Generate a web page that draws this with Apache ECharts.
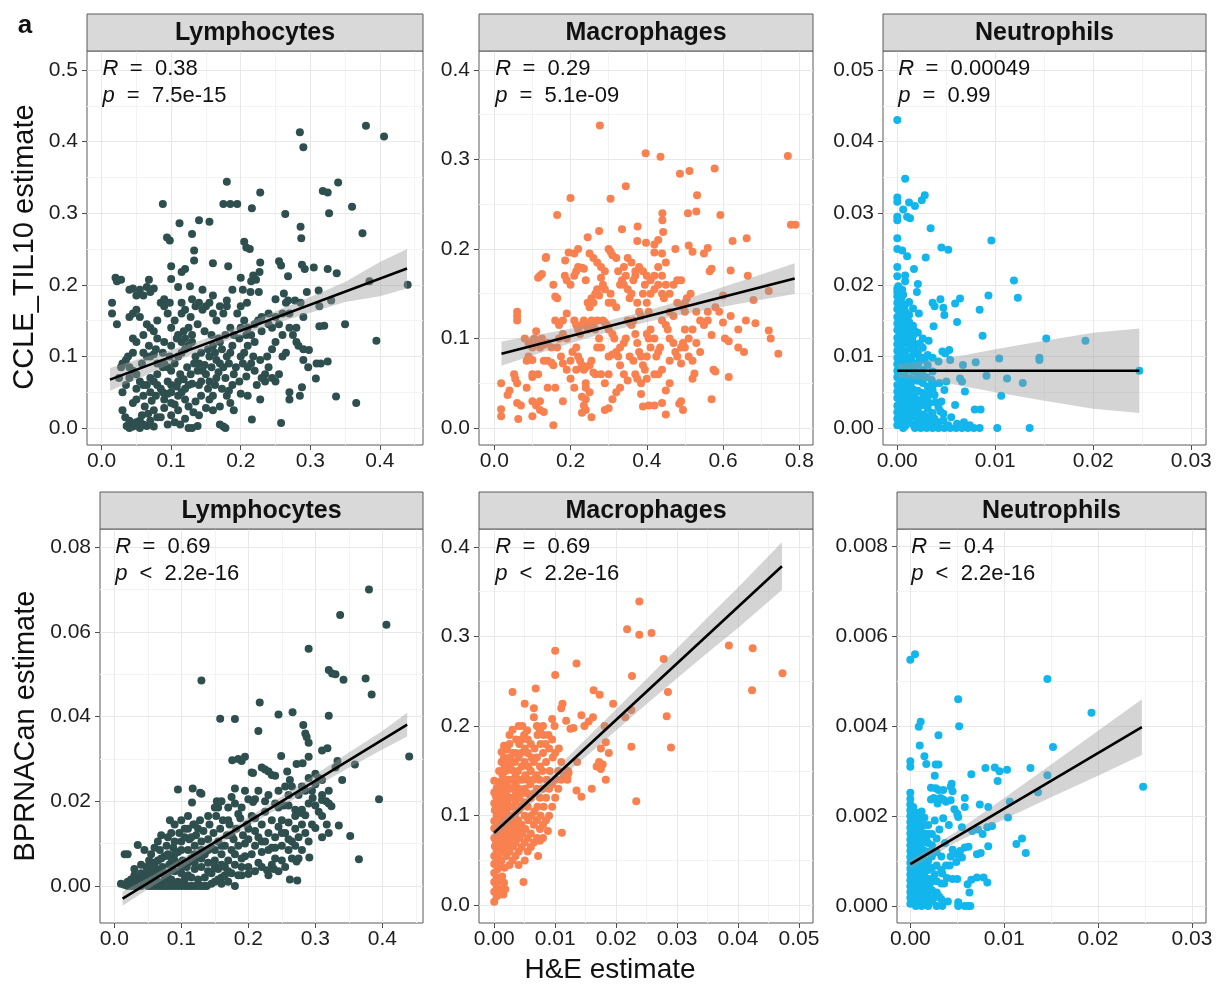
<!DOCTYPE html>
<html><head><meta charset="utf-8">
<script src="https://cdn.jsdelivr.net/npm/echarts@6/dist/echarts.min.js"></script>
<style>html,body{margin:0;padding:0;background:#fff}#c{width:1218px;height:987px}</style>
</head><body><div id="c"></div>
<script>
// ---------------- DATA ----------------
const panelTitles = ['Lymphocytes','Macrophages','Neutrophils','Lymphocytes','Macrophages','Neutrophils'];
const rValues = ['0.38','0.29','0.00049','0.69','0.69','0.4'];
const pOps = ['=','=','=','<','<','<'];
const pValues = ['7.5e-15','5.1e-09','0.99','2.2e-16','2.2e-16','2.2e-16'];
const yTitles = ['CCLE_TIL10 estimate','BPRNACan estimate'];
const xTitle = 'H&E estimate';
const panelTag = 'a';

const xTicksLymph = [0,0.1,0.2,0.3,0.4];
const xTicksMacroCCLE = [0,0.2,0.4,0.6,0.8];
const xTicksNeutro = [0,0.01,0.02,0.03];
const xTicksMacroBPR = [0,0.01,0.02,0.03,0.04,0.05];
const yTicksLymphCCLE = [0,0.1,0.2,0.3,0.4,0.5];
const yTicksMacroCCLE = [0,0.1,0.2,0.3,0.4];
const yTicksNeutroCCLE = [0,0.01,0.02,0.03,0.04,0.05];
const yTicksLymphBPR = [0,0.02,0.04,0.06,0.08];
const yTicksMacroBPR = [0,0.1,0.2,0.3,0.4];
const yTicksNeutroBPR = [0,0.002,0.004,0.006,0.008];

const lymphCCLE = [
[0.285,0.413],[0.29,0.392],[0.38,0.422],[0.406,0.407],[0.18,0.344],[0.34,0.343],[0.228,0.329],[0.318,0.331],[0.325,0.329],[0.088,0.313],[0.175,0.313],[0.185,0.313],[0.195,0.313],[0.216,0.307],[0.36,0.309],[0.327,0.300],[0.264,0.299],[0.14,0.29],[0.155,0.288],[0.112,0.286],[0.286,0.281],[0.375,0.272],[0.13,0.271],[0.094,0.266],[0.098,0.262],[0.205,0.26],[0.287,0.265],[0.208,0.252],[0.213,0.25],[0.133,0.248],[0.133,0.234],[0.255,0.233],[0.258,0.227],[0.228,0.231],[0.16,0.23],[0.1,0.226],[0.12,0.222],[0.115,0.218],[0.182,0.226],[0.288,0.228],[0.292,0.222],[0.305,0.224],[0.325,0.222],[0.338,0.216],[0.227,0.218],[0.218,0.213],[0.215,0.205],[0.222,0.207],[0.268,0.212],[0.2,0.21],
[0.015,0.175],[0.015,0.16],[0.02,0.21],[0.022,0.205],[0.028,0.207],[0.022,0.145],[0.04,0.193],[0.045,0.195],[0.055,0.193],[0.065,0.197],[0.068,0.207],[0.07,0.19],[0.1,0.208],[0.11,0.197],[0.127,0.198],[0.145,0.193],[0.188,0.193],[0.203,0.193],[0.209,0.175],[0.214,0.19],[0.226,0.19],[0.25,0.18],[0.262,0.188],[0.268,0.178],[0.278,0.178],[0.286,0.175],[0.295,0.19],[0.312,0.192],[0.313,0.17],[0.33,0.178],[0.44,0.2],[0.385,0.205],[0.29,0.155],[0.35,0.145],[0.32,0.143],[0.313,0.142],[0.395,0.122],[0.325,0.093],[0.315,0.09],[0.309,0.09],[0.298,0.109],[0.297,0.085],[0.29,0.095],[0.308,0.069],[0.337,0.044],[0.366,0.035],[0.258,0.007],[0.216,0.012],[0.178,0.0],[0.175,0.002],[0.17,0.005],
[0.036,0.003],[0.04,0.0],[0.045,0.002],[0.05,0.008],[0.055,0.0],[0.06,0.005],[0.065,0.003],[0.07,0.01],[0.075,0.002],[0.08,0.015],[0.03,0.025],[0.034,0.015],[0.04,0.01],[0.058,0.018],[0.067,0.02],[0.075,0.025],[0.09,0.028],[0.1,0.018],[0.11,0.025],[0.105,0.008],[0.113,0.005],[0.125,0.0],[0.13,0.0],[0.138,0.003],[0.14,0.018],[0.15,0.028],[0.16,0.025],[0.125,0.03],[0.132,0.022],[0.085,0.015],[0.095,0.005],[0.12,0.013],
[0.045,0.035],[0.05,0.04],[0.06,0.045],[0.07,0.05],[0.08,0.06],[0.085,0.055],[0.075,0.065],[0.065,0.06],[0.09,0.04],[0.1,0.035],[0.105,0.033],[0.11,0.045],[0.115,0.05],[0.12,0.055],[0.125,0.06],[0.13,0.062],[0.12,0.04],[0.135,0.037],[0.143,0.045],[0.155,0.04],[0.16,0.045],[0.165,0.07],[0.17,0.03],[0.18,0.045],[0.185,0.035],[0.19,0.025],[0.155,0.065],[0.14,0.06],[0.2,0.048],[0.21,0.045],[0.228,0.04],[0.27,0.05],[0.27,0.04],[0.285,0.045],[0.288,0.057],[0.223,0.06],[0.235,0.065],[0.25,0.065],[0.255,0.075],[0.245,0.07],[0.1,0.06],[0.095,0.065],[0.055,0.065],[0.04,0.07],
[0.025,0.07],[0.028,0.085],[0.03,0.09],[0.035,0.095],[0.038,0.1],[0.04,0.085],[0.045,0.08],[0.05,0.075],[0.06,0.105],[0.065,0.1],[0.07,0.1],[0.075,0.103],[0.08,0.09],[0.088,0.085],[0.09,0.09],[0.095,0.085],[0.1,0.08],[0.105,0.09],[0.11,0.1],[0.115,0.105],[0.12,0.11],[0.125,0.115],[0.13,0.12],[0.135,0.1],[0.14,0.09],[0.145,0.08],[0.15,0.075],[0.155,0.1],[0.165,0.095],[0.17,0.09],[0.175,0.085],[0.18,0.1],[0.185,0.105],[0.19,0.075],[0.2,0.1],[0.205,0.105],[0.21,0.085],[0.215,0.09],[0.22,0.08],[0.23,0.07],[0.235,0.075],[0.24,0.085],[0.245,0.11],[0.25,0.12],[0.26,0.1],[0.265,0.105],[0.22,0.12],[0.21,0.115],[0.28,0.12],[0.283,0.115],[0.29,0.11],[0.05,0.12],[0.045,0.125],[0.08,0.125],[0.09,0.12],[0.1,0.115],[0.115,0.12],[0.12,0.125],[0.16,0.115],[0.17,0.12],
[0.04,0.155],[0.045,0.16],[0.05,0.165],[0.055,0.155],[0.06,0.13],[0.065,0.145],[0.07,0.14],[0.075,0.135],[0.08,0.15],[0.085,0.175],[0.09,0.17],[0.095,0.16],[0.1,0.14],[0.105,0.15],[0.11,0.13],[0.115,0.16],[0.12,0.165],[0.125,0.14],[0.13,0.13],[0.135,0.17],[0.14,0.175],[0.145,0.165],[0.15,0.17],[0.155,0.175],[0.16,0.16],[0.165,0.15],[0.17,0.17],[0.175,0.16],[0.18,0.17],[0.185,0.14],[0.19,0.13],[0.195,0.16],[0.2,0.17],[0.205,0.15],[0.21,0.14],[0.215,0.13],[0.22,0.145],[0.225,0.15],[0.23,0.155],[0.24,0.16],[0.245,0.14],[0.255,0.145],[0.265,0.175],[0.27,0.16],[0.275,0.13],[0.28,0.14],[0.06,0.185],[0.075,0.195],[0.13,0.18],[0.16,0.185],[0.18,0.178],[0.115,0.175],[0.09,0.18],[0.098,0.175],[0.05,0.185],
[0.055,0.01],[0.062,0.03],[0.072,0.038],[0.078,0.045],[0.088,0.05],[0.095,0.048],[0.108,0.058],[0.118,0.068],[0.128,0.075],[0.138,0.08],[0.148,0.088],[0.158,0.085],[0.168,0.078],[0.178,0.07],[0.188,0.06],[0.198,0.065],[0.208,0.072],[0.218,0.1],[0.228,0.095],[0.238,0.1],[0.098,0.1],[0.088,0.105],[0.078,0.11],[0.068,0.115],[0.058,0.09],[0.108,0.125],[0.118,0.135],[0.128,0.155],[0.138,0.145],[0.148,0.135],[0.158,0.13],[0.168,0.125],[0.178,0.13],[0.188,0.115],[0.198,0.125],[0.208,0.13],[0.143,0.105],[0.153,0.11],[0.163,0.105],[0.173,0.11],[0.183,0.09],[0.193,0.085],[0.203,0.09],[0.113,0.075],[0.123,0.085],[0.133,0.09],[0.143,0.065],[0.153,0.055],[0.163,0.06],[0.173,0.055],[0.183,0.052],[0.06,0.06],[0.07,0.07],[0.08,0.075],[0.05,0.055],[0.1,0.05],[0.11,0.065],[0.2,0.14],[0.23,0.135],[0.24,0.145],[0.26,0.13],[0.27,0.14],[0.26,0.16],[0.25,0.155],[0.035,0.06],[0.03,0.05],[0.045,0.105]
];
const fitLymphCCLE = [[0.012,0.0676],[0.439,0.2227]];
const bandLymphCCLE = [[0.012,0.052,0.084],[0.06,0.072,0.098],[0.1,0.090,0.109],[0.15,0.111,0.125],[0.2,0.129,0.143],[0.25,0.146,0.163],[0.3,0.161,0.183],[0.35,0.176,0.204],[0.4,0.184,0.232],[0.439,0.195,0.250]];

const macroCCLE = [
[0.277,0.338],[0.397,0.307],[0.436,0.303],[0.77,0.304],[0.487,0.284],[0.512,0.287],[0.578,0.29],[0.345,0.27],[0.532,0.26],[0.2,0.257],[0.305,0.256],[0.165,0.238],[0.508,0.24],[0.53,0.242],[0.593,0.238],[0.441,0.24],[0.441,0.232],[0.778,0.227],[0.79,0.227],[0.275,0.22],[0.335,0.222],[0.376,0.225],[0.443,0.219],[0.245,0.213],[0.375,0.209],[0.398,0.207],[0.42,0.205],[0.43,0.21],[0.475,0.2],[0.51,0.204],[0.52,0.197],[0.56,0.201],[0.55,0.195],[0.625,0.209],[0.662,0.212],[0.136,0.191],[0.186,0.187],[0.195,0.196],[0.21,0.195],[0.23,0.179],[0.3,0.2],[0.305,0.197],[0.31,0.193],[0.325,0.175],[0.32,0.19],[0.34,0.18],[0.45,0.185],[0.42,0.196],[0.44,0.195],[0.565,0.175],[0.57,0.178],[0.62,0.176],[0.665,0.17],[0.68,0.143],[0.72,0.153],[0.685,0.117],[0.72,0.109],[0.725,0.1],[0.745,0.083],[0.64,0.09],[0.655,0.085],[0.6,0.118],[0.615,0.097],[0.55,0.115],[0.56,0.12],[0.57,0.104],[0.59,0.13],[0.605,0.1],[0.575,0.065],[0.58,0.063],[0.615,0.057],[0.57,0.032],[0.5,0.09],[0.51,0.08],[0.52,0.075],[0.49,0.072],[0.525,0.061],[0.52,0.055],[0.49,0.03],[0.485,0.027],[0.495,0.02],[0.45,0.015],[0.44,0.028],[0.42,0.025],[0.405,0.025],[0.39,0.024],[0.4,0.055],[0.385,0.038],[0.45,0.042],[0.46,0.05],[0.35,0.053],[0.33,0.045],[0.3,0.022],[0.31,0.032],[0.29,0.02],[0.255,0.012],[0.24,0.02],[0.235,0.025],[0.23,0.017],[0.24,0.032],[0.24,0.045],
[0.018,0.013],[0.018,0.021],[0.018,0.05],[0.035,0.037],[0.04,0.042],[0.055,0.055],[0.06,0.05],[0.052,0.06],[0.06,0.028],[0.07,0.025],[0.063,0.01],[0.085,0.045],[0.1,0.057],[0.1,0.03],[0.1,0.013],[0.11,0.025],[0.12,0.03],[0.12,0.02],[0.13,0.018],[0.14,0.045],[0.16,0.045],[0.155,0.003],[0.18,0.03],[0.06,0.125],[0.06,0.13],[0.06,0.12],[0.08,0.1],[0.09,0.095],[0.1,0.097],[0.105,0.1],[0.11,0.108],[0.115,0.095],[0.12,0.09],[0.125,0.1],[0.13,0.093],[0.14,0.095],[0.085,0.075],[0.09,0.08],[0.1,0.076],[0.1,0.09],[0.1,0.06],[0.115,0.06],[0.13,0.075],[0.14,0.075],[0.15,0.073],[0.155,0.07],[0.12,0.17],[0.125,0.172],[0.115,0.168],[0.135,0.19],[0.155,0.16],[0.16,0.147],[0.165,0.145],[0.16,0.12],[0.17,0.115],[0.18,0.105],[0.18,0.12],[0.19,0.128],[0.19,0.1],[0.175,0.08],[0.18,0.072],[0.19,0.065],[0.2,0.075],[0.205,0.085],[0.15,0.09],[0.165,0.09],[0.17,0.1],
[0.185,0.17],[0.19,0.165],[0.2,0.16],[0.21,0.17],[0.215,0.175],[0.22,0.18],[0.235,0.178],[0.24,0.165],[0.245,0.14],[0.25,0.135],[0.255,0.145],[0.26,0.14],[0.265,0.15],[0.27,0.155],[0.275,0.148],[0.28,0.168],[0.285,0.16],[0.29,0.155],[0.3,0.14],[0.305,0.15],[0.31,0.14],[0.32,0.135],[0.33,0.16],[0.335,0.165],[0.34,0.16],[0.345,0.17],[0.35,0.155],[0.355,0.145],[0.36,0.15],[0.365,0.165],[0.37,0.17],[0.375,0.14],[0.38,0.13],[0.385,0.125],[0.39,0.15],[0.395,0.16],[0.4,0.14],[0.405,0.13],[0.41,0.15],[0.42,0.155],[0.43,0.16],[0.44,0.15],[0.445,0.145],[0.45,0.16],[0.46,0.13],[0.47,0.125],[0.48,0.14],[0.49,0.165],[0.495,0.135],[0.5,0.13],[0.505,0.145],[0.515,0.15],
[0.21,0.12],[0.215,0.115],[0.22,0.11],[0.225,0.105],[0.23,0.115],[0.235,0.12],[0.24,0.115],[0.245,0.11],[0.25,0.115],[0.255,0.12],[0.26,0.115],[0.265,0.11],[0.27,0.12],[0.275,0.1],[0.28,0.09],[0.285,0.12],[0.29,0.118],[0.295,0.115],[0.3,0.11],[0.31,0.105],[0.315,0.1],[0.32,0.085],[0.325,0.08],[0.33,0.09],[0.34,0.095],[0.345,0.1],[0.35,0.12],[0.355,0.118],[0.36,0.115],[0.365,0.12],[0.37,0.105],[0.375,0.095],[0.38,0.085],[0.385,0.08],[0.39,0.07],[0.395,0.065],[0.4,0.105],[0.405,0.1],[0.41,0.11],[0.42,0.1],[0.425,0.08],[0.43,0.085],[0.435,0.09],[0.44,0.12],[0.45,0.115],[0.455,0.11],[0.46,0.1],[0.47,0.095],[0.475,0.085],[0.48,0.08],
[0.215,0.09],[0.22,0.08],[0.225,0.075],[0.23,0.07],[0.235,0.065],[0.24,0.068],[0.25,0.07],[0.255,0.075],[0.26,0.062],[0.265,0.06],[0.27,0.09],[0.3,0.08],[0.31,0.082],[0.33,0.07],[0.34,0.06],[0.355,0.08],[0.365,0.075],[0.37,0.06],[0.375,0.055],[0.385,0.05],[0.4,0.08],[0.41,0.09],[0.42,0.06],[0.43,0.06],[0.44,0.065],[0.46,0.075],[0.2,0.055],[0.21,0.045],[0.215,0.065],[0.23,0.035],[0.24,0.05],[0.25,0.04],[0.28,0.06],[0.29,0.05],[0.3,0.06],[0.32,0.04],
[0.22,0.2],[0.25,0.195],[0.26,0.19],[0.27,0.185],[0.28,0.18],[0.29,0.175],[0.35,0.19],[0.36,0.185],[0.37,0.175],[0.38,0.18],[0.39,0.175],[0.4,0.17],[0.41,0.165],[0.42,0.17],[0.43,0.18],[0.44,0.17],[0.46,0.15],[0.47,0.16],[0.48,0.165],[0.5,0.14],[0.53,0.13],[0.54,0.12],[0.52,0.11],[0.51,0.1],[0.495,0.095],[0.49,0.09],[0.5,0.11],[0.53,0.095],[0.54,0.085],[0.56,0.13],[0.58,0.135],[0.62,0.125],[0.6,0.148],[0.64,0.11],[0.66,0.12]
];
const fitMacroCCLE = [[0.019,0.083],[0.788,0.167]];
const bandMacroCCLE = [[0.019,0.0695,0.0965],[0.1,0.081,0.103],[0.2,0.0947,0.1109],[0.3,0.1074,0.12],[0.4,0.1183,0.1309],[0.5,0.1274,0.1436],[0.6,0.1355,0.1575],[0.7,0.1432,0.1716],[0.788,0.1498,0.1842]];

const neutroCCLE = [
[0,0.043],[0.0008,0.0348],[0,0.0322],[0,0.0316],[0.0012,0.0315],[0.0028,0.0325],[0.0025,0.0318],[0.0006,0.0305],[0.0018,0.031],[0.001,0.0295],[0.0013,0.0293],[0,0.029],[0,0.0295],[0.0034,0.0279],[0,0.0265],[0.0096,0.0262],[0,0.025],[0.0005,0.0248],[0.0045,0.0252],[0.0052,0.0249],[0.001,0.024],[0.0029,0.0238],[0,0.0225],[0.0017,0.0222],[0,0.0212],[0.0008,0.0213],[0.0008,0.0205],[0.0021,0.0201],[0,0.0195],[0,0.019],[0.0005,0.0193],[0.002,0.019],[0.0119,0.0206],[0.0123,0.0182],[0.0093,0.0185],[0.0044,0.018],[0.0064,0.0181],[0.0059,0.0174],[0.0036,0.0175],[0.0038,0.017],[0.0047,0.0168],[0.0084,0.0165],[0.0048,0.0158],[0.0022,0.016],[0.0061,0.0148],[0.0037,0.0142],[0.0087,0.0129],[0.0152,0.0125],[0.0192,0.0122],[0.0032,0.0122],[0.0023,0.0118],[0.0016,0.012],[0.0026,0.0112],[0.0046,0.0107],[0.0053,0.0109],[0.0049,0.0104],[0.0036,0.0098],[0.0028,0.0095],[0.0022,0.0092],[0.0042,0.0093],[0.0054,0.0095],[0.0067,0.0088],[0.008,0.0092],[0.0104,0.0097],[0.0145,0.0095],[0.0145,0.0098],[0.0247,0.008],[0.0091,0.0073],[0.0112,0.0069],[0.0128,0.0063],[0.0064,0.0069],[0.0066,0.0065],[0.0035,0.0067],[0.0038,0.0062],[0.0043,0.0063],[0.005,0.0065],[0.003,0.0071],[0.0048,0.0053],[0.0069,0.0051],[0.0106,0.0045],[0.0027,0.0045],[0.0039,0.0036],[0.0045,0.0037],[0.0059,0.0032],[0.0026,0.0032],[0.0018,0.0036],[0.0079,0.0026],[0.0085,0.0026],[0.0044,0.0023],[0.0047,0.002],[0.0032,0.0016],[0.0013,0.0017],[0.0023,0.0015],
[0,0.0004],[0,0.0013],[0,0.0022],[0,0.0031],[0,0.0042],[0,0.0051],[0,0.006],[0,0.0071],[0,0.008],[0,0.0089],[0,0.0098],[0,0.0108],[0,0.0117],[0,0.0126],[0,0.0137],[0,0.0146],[0,0.0155],[0,0.0166],[0,0.0175],[0,0.0184],[0.0001,0.0198],
[0.0004,0.0008],[0.0004,0.0018],[0.0004,0.0027],[0.0004,0.0036],[0.0004,0.0047],[0.0004,0.0056],[0.0004,0.0066],[0.0004,0.0075],[0.0004,0.0085],[0.0004,0.0094],[0.0004,0.0103],[0.0004,0.0113],[0.0004,0.0122],[0.0004,0.0132],[0.0004,0.0141],[0.0004,0.0151],[0.0004,0.0161],[0.0004,0.017],[0.0004,0.0181],
[0.0008,0.0003],[0.0008,0.0014],[0.0008,0.0025],[0.0008,0.0038],[0.0008,0.0049],[0.0008,0.0062],[0.0008,0.0073],[0.0008,0.0084],[0.0008,0.0097],[0.0008,0.0106],[0.0008,0.0119],[0.0008,0.013],[0.0008,0.0139],[0.0008,0.015],[0.0008,0.0163],[0.0008,0.0172],
[0.0012,0.0009],[0.0012,0.0021],[0.0012,0.0034],[0.0012,0.0045],[0.0012,0.0058],[0.0012,0.0069],[0.0012,0.0082],[0.0012,0.0093],[0.0012,0.0111],[0.0012,0.0124],[0.0012,0.0135],[0.0012,0.0148],[0.0012,0.0158],[0.0012,0.0176],
[0.0016,0.0005],[0.0016,0.0029],[0.0016,0.0041],[0.0016,0.0054],[0.0016,0.0068],[0.0016,0.0079],[0.0016,0.0091],[0.0016,0.0102],[0.0016,0.0116],[0.0016,0.0129],[0.0016,0.0143],[0.0016,0.0167],
[0.0021,0.0002],[0.0021,0.0012],[0.0021,0.0024],[0.0021,0.0039],[0.0021,0.0052],[0.0021,0.0066],[0.0021,0.0077],[0.0021,0.0089],[0.0021,0.0105],[0.0021,0.0133],
[0.0026,0.0006],[0.0026,0.0019],[0.0026,0.0049],[0.0026,0.0063],[0.0026,0.0081],[0.0026,0.0098],[0.0026,0.0125],
[0.0031,0.0002],[0.0031,0.0027],[0.0031,0.0044],[0.0031,0.0058],[0.0031,0.0088],[0.0031,0.0102],
[0.0036,0.0007],[0.0036,0.0021],[0.0036,0.0053],[0.0036,0.0079],
[0.0006,0],[0.0018,0],[0.0024,0],[0.003,0],[0.0036,0],[0.0042,0],[0.0048,0],[0.0054,0],[0.006,0],[0.0066,0],[0.0072,0],[0.0078,0],[0.0084,0],[0.0102,0],[0.0135,0],[0.0061,0.0006],[0.0074,0.0004],[0.0068,0.0008],
[0.0002,0.0009],[0.0002,0.0031],[0.0002,0.0052],[0.0002,0.0073],[0.0002,0.0094],[0.0002,0.0115],[0.0002,0.0136],[0.0002,0.0157],[0.0002,0.0178],[0.0006,0.0011],[0.0006,0.0041],[0.0006,0.0079],[0.0006,0.0101],[0.0006,0.0143],[0.0006,0.0186],[0.001,0.0007],[0.001,0.0029],[0.001,0.0052],[0.001,0.0088],[0.001,0.0127],[0.001,0.0156],[0.0014,0.0015],[0.0014,0.0039],[0.0014,0.0063],[0.0014,0.0099],[0.0014,0.0119],[0.0014,0.0141],[0.0018,0.0022],[0.0018,0.0048],[0.0018,0.0085],[0.0018,0.011],[0.0018,0.0135],[0.0023,0.0031],[0.0023,0.0072],[0.0023,0.0098],[0.0028,0.0012],[0.0028,0.0038],[0.0028,0.0071],[0.0033,0.0009],[0.0033,0.0035],[0.0033,0.0052],[0.0038,0.0013],[0.0038,0.0046],[0.0042,0.0008],[0.0042,0.0029],[0.0047,0.0011],[0.0052,0.0004],[0.0055,0.0015]
];
const fitNeutroCCLE = [[0,0.008],[0.0247,0.008]];
const bandNeutroCCLE = [[0,0.0071,0.0089],[0.005,0.0063,0.0097],[0.01,0.005,0.011],[0.015,0.0038,0.0122],[0.02,0.0027,0.0133],[0.0247,0.0021,0.0139]];

const lymphBPR = [
[0.38,0.07],[0.337,0.064],[0.406,0.0617],[0.29,0.056],[0.32,0.051],[0.325,0.0502],[0.33,0.05],[0.342,0.0487],[0.375,0.049],[0.384,0.0452],[0.13,0.0485],[0.217,0.0433],[0.266,0.041],[0.245,0.0405],[0.32,0.0402],[0.158,0.0395],[0.18,0.0394],[0.215,0.0366],[0.282,0.038],[0.285,0.036],[0.287,0.0352],[0.29,0.0338],[0.318,0.0325],[0.31,0.032],[0.185,0.03],[0.19,0.0295],[0.176,0.0297],[0.195,0.0305],[0.249,0.0307],[0.29,0.0305],[0.272,0.0288],[0.281,0.029],[0.333,0.0295],[0.359,0.0287],[0.44,0.0306],[0.22,0.028],[0.225,0.0275],[0.23,0.027],[0.205,0.0268],[0.207,0.0267],[0.235,0.0262],[0.24,0.026],[0.258,0.027],[0.262,0.025],[0.29,0.0255],[0.3,0.024],[0.31,0.025],[0.095,0.0228],[0.117,0.023],[0.128,0.022],[0.13,0.0218],[0.153,0.02],[0.155,0.0185],[0.116,0.0197],[0.18,0.023],[0.175,0.021],[0.207,0.0198],[0.21,0.0205],[0.225,0.02],[0.24,0.0195],[0.253,0.019],[0.26,0.019],[0.296,0.0208],[0.31,0.0203],[0.316,0.02],[0.32,0.0195],[0.324,0.0188],[0.395,0.0205],[0.28,0.018],[0.279,0.0172],[0.27,0.0165],[0.285,0.0167],[0.352,0.0118],[0.365,0.0063],[0.317,0.0145],[0.335,0.0143],[0.3,0.0137],[0.291,0.0067],[0.272,0.0058],[0.265,0.0065],[0.262,0.0015],[0.273,0.0013],[0.238,0.004],[0.228,0.0037],[0.2,0.0028],[0.21,0.0035],[0.19,0.0025],[0.083,0.0155],[0.0155,0.0075],[0.02,0.0075],[0.035,0.0097],
[0.01,0.0005],[0.015,0.0003],[0.02,0.001],[0.025,0.0015],[0.025,0.0],[0.03,0.001],[0.03,0.0025],[0.035,0.002],[0.035,0.0],[0.04,0.001],[0.04,0.003],[0.045,0.0005],[0.045,0.0025],[0.048,0.0045],[0.05,0.0],[0.05,0.002],[0.052,0.006],[0.055,0.001],[0.055,0.0035],[0.058,0.0055],[0.06,0.0],[0.06,0.0025],[0.062,0.004],[0.065,0.001],[0.065,0.006],[0.068,0.0085],[0.07,0.0],[0.07,0.003],[0.07,0.012],[0.072,0.0045],[0.075,0.0015],[0.075,0.007],[0.078,0.0095],[0.08,0.0],[0.08,0.003],[0.082,0.005],[0.085,0.0015],[0.085,0.0065],[0.088,0.009],[0.09,0.0],[0.09,0.0035],[0.092,0.0055],[0.095,0.001],[0.095,0.008],[0.097,0.0125],[0.1,0.0],[0.1,0.003],[0.1,0.0105],[0.102,0.006],[0.105,0.0015],[0.105,0.0135],[0.108,0.0045],[0.11,0.0],[0.11,0.0085],[0.112,0.011],[0.115,0.002],[0.115,0.0065],[0.118,0.0145],[0.12,0.0],[0.12,0.004],[0.12,0.0095],[0.122,0.012],[0.125,0.0015],[0.125,0.007],[0.128,0.0155],[0.13,0.0],[0.13,0.0045],[0.13,0.0105],[0.133,0.013],[0.135,0.002],[0.135,0.0075],[0.138,0.0],[0.14,0.0055],[0.14,0.011],[0.142,0.0145],[0.145,0.003],[0.145,0.009],[0.148,0.0125],[0.15,0.001],[0.15,0.006],[0.152,0.0165],[0.155,0.004],[0.155,0.0105],[0.158,0.0135],[0.16,0.002],[0.16,0.0075],[0.162,0.0155],[0.165,0.0045],[0.165,0.0095],[0.168,0.012],[0.17,0.001],[0.17,0.006],[0.172,0.0145],[0.175,0.003],[0.175,0.0085],[0.178,0.011],[0.18,0.0],[0.18,0.005],[0.182,0.0135],[0.185,0.0025],[0.185,0.0095],[0.188,0.016],[0.19,0.0065],[0.192,0.012],[0.195,0.01],[0.198,0.0145],[0.2,0.0045],[0.2,0.011],[0.205,0.0075],[0.205,0.0165],[0.21,0.0095],[0.21,0.013],[0.215,0.0055],[0.215,0.0115],[0.22,0.008],[0.22,0.0145],[0.225,0.0105],[0.225,0.0175],[0.23,0.0125],[0.235,0.009],[0.235,0.0155],[0.24,0.0115],[0.245,0.014],[0.245,0.0185],[0.25,0.0095],[0.25,0.0155],[0.255,0.0125],[0.26,0.015],[0.265,0.0105],[0.27,0.0135],[0.275,0.0115],[0.28,0.0145],[0.285,0.0125],[0.29,0.0105],[0.23,0.0025],[0.22,0.0045],[0.24,0.0065],[0.045,0.0085],[0.055,0.0075],[0.06,0.009],[0.065,0.0105],[0.08,0.0115],[0.085,0.0125],[0.09,0.0105],[0.105,0.0115],[0.11,0.0135],[0.115,0.0115],[0.12,0.0145],[0.125,0.0135],[0.09,0.0145],[0.1,0.0155],[0.11,0.0165],[0.14,0.0165],[0.15,0.0185],[0.16,0.02],[0.17,0.0185],[0.19,0.0185],[0.2,0.0205],[0.195,0.0225],[0.215,0.0225],[0.23,0.0215],[0.245,0.0225],[0.255,0.0235],[0.26,0.0215],[0.265,0.0235],[0.275,0.0215],[0.285,0.0225],[0.3,0.0265],[0.305,0.0255],[0.33,0.028],[0.3,0.019],[0.29,0.0195],[0.305,0.0175],[0.31,0.0165],[0.295,0.0145],[0.31,0.0115],[0.32,0.0125],[0.28,0.0085],[0.27,0.0095],[0.26,0.0085],[0.25,0.006],[0.235,0.005],[0.245,0.0035],
[0.02,0.0],[0.03,0.0],[0.04,0.0],[0.045,0.0015],[0.055,0.0],[0.065,0.0],[0.075,0.0],[0.085,0.0],[0.095,0.0],[0.105,0.0],[0.115,0.0],[0.125,0.0],[0.135,0.0],[0.11,0.0025],[0.1,0.0045],[0.09,0.006],[0.08,0.0075],[0.07,0.0065],[0.06,0.005],[0.05,0.004],[0.04,0.005],[0.03,0.004],[0.12,0.0055],[0.13,0.0065],[0.14,0.0035],[0.15,0.0045],[0.16,0.005],[0.17,0.0035],[0.16,0.0095],[0.15,0.0085],[0.14,0.0085],[0.13,0.0085],[0.12,0.0075],[0.11,0.0055],[0.1,0.0085],[0.09,0.0075],[0.175,0.012],[0.18,0.0075],[0.19,0.0045],[0.195,0.007],[0.165,0.0025],[0.155,0.0015],[0.145,0.0005],[0.16,0.0005],[0.17,0.0155],[0.185,0.017],[0.18,0.0195],[0.2,0.0135],[0.21,0.016],[0.22,0.0105],[0.23,0.0085],[0.24,0.009],[0.25,0.0125],[0.26,0.011],[0.27,0.018],[0.28,0.0235],[0.295,0.0225],[0.31,0.0215],[0.32,0.0225],[0.34,0.025],[0.275,0.0065],[0.255,0.0045]
];
const fitLymphBPR = [[0.0124,-0.003],[0.437,0.0381]];
const bandLymphBPR = [[0.0124,-0.0047,-0.0013],[0.05,-0.0008,0.0019],[0.1,0.0041,0.0064],[0.15,0.0092,0.0112],[0.2,0.0141,0.0162],[0.25,0.0188,0.0212],[0.3,0.0234,0.0263],[0.35,0.0279,0.0315],[0.4,0.0322,0.0366],[0.437,0.0353,0.0409]];

const macroBPR = [
[0.0238,0.339],[0.0218,0.308],[0.0238,0.302],[0.0258,0.304],[0.0385,0.29],[0.0424,0.287],[0.0473,0.259],[0.01,0.284],[0.0135,0.27],[0.0226,0.256],[0.01,0.257],[0.0278,0.275],[0.0285,0.238],[0.0423,0.24],[0.0163,0.24],[0.0173,0.235],[0.003,0.238],[0.0068,0.242],[0.0195,0.225],[0.0283,0.211],[0.029,0.176],[0.0225,0.177],[0.0233,0.116],[0.0215,0.21],[0.0225,0.218],[0.005,0.225],[0.0065,0.22],[0.011,0.22],[0.0112,0.225],[0.0143,0.212],[0.0148,0.2],[0.0155,0.205],[0.0162,0.21],[0.0118,0.206],[0.0125,0.197],[0.013,0.198],[0.0095,0.208],[0.0181,0.2],[0.0175,0.175],[0.0183,0.182],[0.0188,0.17],[0.0172,0.16],[0.0168,0.155],[0.0175,0.152],[0.0178,0.157],[0.016,0.13],[0.0183,0.14],[0.0135,0.128],[0.0143,0.121],[0.0111,0.081],[0.0136,0.16],[0.0122,0.148],[0.0115,0.145],[0.012,0.14],[0.0088,0.083],[0.0072,0.055],[0.0075,0.072],[0.0048,0.026],[0.0015,0.012],[0.0018,0.018],[0,0.004],
[0,0.015],[0,0.026],[0,0.036],[0,0.046],[0,0.055],[0.0001,0.066],[0,0.075],[0,0.086],[0,0.094],[0.0001,0.106],[0,0.114],[0,0.126],[0,0.139],
[0.0004,0.01],[0.0004,0.021],[0.0004,0.031],[0.0005,0.04],[0.0004,0.051],[0.0004,0.06],[0.0003,0.071],[0.0004,0.08],[0.0005,0.091],[0.0004,0.1],[0.0004,0.11],[0.0003,0.121],[0.0004,0.131],
[0.0008,0.012],[0.0009,0.028],[0.0008,0.045],[0.0008,0.058],[0.0007,0.068],[0.0008,0.079],[0.0009,0.088],[0.0008,0.098],[0.0008,0.108],[0.0007,0.118],[0.0008,0.128],[0.0009,0.138],[0.0008,0.15],
[0.0012,0.018],[0.0013,0.032],[0.0012,0.05],[0.0012,0.064],[0.0011,0.075],[0.0012,0.086],[0.0013,0.095],[0.0012,0.105],[0.0012,0.116],[0.0011,0.125],[0.0012,0.135],[0.0013,0.146],[0.0012,0.16],[0.0012,0.171],
[0.0016,0.025],[0.0017,0.042],[0.0016,0.06],[0.0016,0.07],[0.0015,0.081],[0.0016,0.09],[0.0017,0.1],[0.0016,0.111],[0.0016,0.12],[0.0015,0.13],[0.0016,0.141],[0.0017,0.155],[0.0016,0.165],[0.0016,0.178],
[0.002,0.055],[0.0021,0.065],[0.002,0.076],[0.002,0.085],[0.0019,0.096],[0.002,0.105],[0.0021,0.115],[0.002,0.126],[0.002,0.136],[0.0019,0.15],[0.002,0.16],[0.0021,0.174],
[0.0025,0.045],[0.0025,0.06],[0.0026,0.07],[0.0025,0.081],[0.0024,0.09],[0.0025,0.1],[0.0026,0.11],[0.0025,0.12],[0.0025,0.131],[0.0024,0.14],[0.0025,0.156],[0.0026,0.165],[0.0025,0.18],[0.0025,0.19],
[0.003,0.05],[0.0031,0.066],[0.003,0.075],[0.003,0.086],[0.0029,0.095],[0.003,0.11],[0.0031,0.12],[0.003,0.13],[0.003,0.14],[0.0029,0.151],[0.003,0.16],[0.0031,0.17],[0.003,0.196],
[0.0035,0.055],[0.0035,0.07],[0.0036,0.08],[0.0035,0.09],[0.0034,0.101],[0.0035,0.115],[0.0036,0.125],[0.0035,0.135],[0.0035,0.146],[0.0034,0.16],[0.0035,0.17],[0.0036,0.185],
[0.004,0.045],[0.004,0.06],[0.0041,0.075],[0.004,0.085],[0.0039,0.095],[0.004,0.106],[0.0041,0.12],[0.004,0.13],[0.004,0.14],[0.0039,0.15],[0.004,0.165],[0.0041,0.18],[0.004,0.2],
[0.0045,0.065],[0.0046,0.08],[0.0045,0.09],[0.0044,0.11],[0.0045,0.125],[0.0046,0.14],[0.0045,0.155],[0.0044,0.17],[0.0045,0.185],[0.0046,0.2],
[0.005,0.05],[0.005,0.07],[0.0051,0.085],[0.005,0.1],[0.0049,0.115],[0.005,0.13],[0.0051,0.145],[0.005,0.16],[0.005,0.175],[0.0049,0.19],
[0.0055,0.06],[0.0055,0.075],[0.0056,0.095],[0.0055,0.11],[0.0054,0.125],[0.0055,0.14],[0.0056,0.155],[0.0055,0.17],[0.0055,0.185],[0.0054,0.195],
[0.006,0.065],[0.006,0.08],[0.0061,0.1],[0.006,0.12],[0.0059,0.135],[0.006,0.15],[0.0061,0.165],[0.006,0.18],
[0.0065,0.07],[0.0065,0.09],[0.0066,0.105],[0.0065,0.125],[0.0064,0.14],[0.0065,0.16],[0.0066,0.175],[0.0065,0.21],
[0.007,0.075],[0.007,0.095],[0.0071,0.11],[0.007,0.13],[0.0069,0.145],[0.007,0.165],[0.0071,0.19],[0.007,0.2],
[0.0075,0.085],[0.0076,0.1],[0.0075,0.12],[0.0074,0.14],[0.0075,0.155],[0.0076,0.18],[0.0075,0.195],
[0.008,0.075],[0.008,0.09],[0.0081,0.11],[0.008,0.13],[0.0079,0.15],[0.008,0.17],[0.0081,0.19],[0.008,0.2],
[0.0085,0.095],[0.0085,0.12],[0.0086,0.14],[0.0085,0.16],[0.0084,0.18],
[0.009,0.1],[0.009,0.13],[0.0091,0.15],[0.009,0.175],[0.0089,0.19],
[0.0095,0.11],[0.0095,0.135],[0.0096,0.165],[0.0095,0.185],
[0.01,0.12],[0.0101,0.14],[0.01,0.17],[0.0099,0.2],
[0.0105,0.13],[0.0105,0.15],[0.0106,0.175],[0.011,0.14],[0.011,0.16],[0.0115,0.145],[0.012,0.143],[0.0121,0.15]
];
const fitMacroBPR = [[0,0.081],[0.0472,0.3785]];
const bandMacroBPR = [[0,0.0745,0.0875],[0.005,0.1065,0.1185],[0.01,0.1365,0.1515],[0.015,0.1658,0.1852],[0.02,0.1952,0.2188],[0.025,0.2246,0.2526],[0.03,0.2533,0.2869],[0.035,0.282,0.3212],[0.04,0.3096,0.3546],[0.0472,0.3518,0.4052]];

const neutroBPR = [
[0,0.00548],[0.0005,0.0056],[0.0146,0.00505],[0.0051,0.0046],[0.0193,0.0043],[0.0011,0.0041],[0.0009,0.00399],[0.0052,0.004],[0.003,0.0038],[0.0152,0.00354],[0.001,0.00357],[0,0.00322],[0,0.0031],[0.0015,0.00333],[0.0017,0.00316],[0.0027,0.00315],[0.003,0.00315],[0.0128,0.00307],[0.008,0.00307],[0.009,0.00308],[0.0095,0.003],[0.0103,0.00303],[0.0093,0.00278],[0.0065,0.00293],[0.0146,0.00291],[0.0026,0.0029],[0.0248,0.00265],[0.0136,0.00253],[0,0.00252],[0,0.00238],[0.0022,0.00263],[0.0027,0.00262],[0.003,0.00258],[0.0035,0.00258],[0.0043,0.00265],[0.0044,0.00272],[0.0045,0.00255],[0.0035,0.00237],[0.0032,0.0024],[0.0025,0.0024],[0.0022,0.00237],[0.0038,0.00232],[0.0029,0.00228],[0.0043,0.00235],[0.0058,0.0024],[0.0058,0.0022],[0.0074,0.00226],[0.0083,0.0022],[0.0106,0.00232],[0.0104,0.00197],[0.005,0.00205],[0.0047,0.00215],[0.0051,0.00198],[0.0035,0.00195],[0.0055,0.00175],[0.0066,0.00167],[0.0072,0.0017],[0.0082,0.00175],[0.0087,0.00178],[0.0077,0.0016],[0.0083,0.00133],[0.0113,0.00138],[0.0119,0.0015],[0.0123,0.00118],[0.0071,0.00115],[0.0075,0.00118],[0.0062,0.00132],[0.0058,0.0013],[0.0053,0.00122],[0.005,0.00115],[0.0045,0.00125],[0.0049,0.00098],[0.0055,0.00108],[0.0042,0.0009],[0.0038,0.0009],[0.0028,0.0009],[0.0034,0.00072],[0.0039,0.00062],[0.0045,0.0006],[0.005,0.0006],[0.0061,0.00048],[0.0065,0.00058],[0.0071,0.00063],[0.0078,0.00063],[0.0082,0.00052],[0.0063,0.0003],[0.0034,0],[0.0051,0.00008],[0.0051,0],[0.0058,0],[0.0062,0],[0.0064,0],[0.0029,0.00025],[0.0025,0.00018],
[0,0.00005],[0,0.00018],[0,0.00031],[0,0.00044],[0,0.00057],[0,0.0007],[0,0.00083],[0,0.00096],[0,0.00109],[0,0.00122],[0,0.00135],[0,0.00148],[0,0.00161],[0,0.00174],[0,0.00187],[0,0.002],[0,0.00213],[0,0.00226],
[0.0003,0.0001],[0.0003,0.00025],[0.0003,0.0004],[0.0003,0.00055],[0.0003,0.0007],[0.0003,0.00085],[0.0003,0.001],[0.0003,0.00115],[0.0003,0.0013],[0.0003,0.00145],[0.0003,0.0016],[0.0003,0.00175],[0.0003,0.0019],[0.0003,0.00205],[0.0003,0.0022],
[0.0006,0],[0.0006,0.00016],[0.0006,0.00032],[0.0006,0.00048],[0.0006,0.00064],[0.0006,0.0008],[0.0006,0.00096],[0.0006,0.00112],[0.0006,0.00128],[0.0006,0.00144],[0.0006,0.0016],[0.0006,0.00176],[0.0006,0.00192],[0.0006,0.00208],
[0.0009,0.00008],[0.0009,0.00024],[0.0009,0.0004],[0.0009,0.00056],[0.0009,0.00072],[0.0009,0.00088],[0.0009,0.00104],[0.0009,0.0012],[0.0009,0.00136],[0.0009,0.00152],[0.0009,0.00168],[0.0009,0.00184],[0.0009,0.002],
[0.0012,0],[0.0012,0.00018],[0.0012,0.00036],[0.0012,0.00054],[0.0012,0.00072],[0.0012,0.0009],[0.0012,0.00108],[0.0012,0.00126],[0.0012,0.00144],[0.0012,0.00162],[0.0012,0.0018],[0.0012,0.00198],[0.0012,0.0021],
[0.0015,0.00009],[0.0015,0.00028],[0.0015,0.00047],[0.0015,0.00066],[0.0015,0.00085],[0.0015,0.00104],[0.0015,0.00123],[0.0015,0.00142],[0.0015,0.00161],[0.0015,0.0018],[0.0015,0.00196],
[0.0019,0],[0.0019,0.0002],[0.0019,0.0004],[0.0019,0.0006],[0.0019,0.0008],[0.0019,0.001],[0.0019,0.0012],[0.0019,0.0014],[0.0019,0.0016],[0.0019,0.0018],
[0.0023,0.0001],[0.0023,0.00035],[0.0023,0.0006],[0.0023,0.00085],[0.0023,0.0011],[0.0023,0.00135],[0.0023,0.0016],
[0.0028,0],[0.0028,0.0003],[0.0028,0.00055],[0.0028,0.0012],[0.0028,0.0015],
[0.0033,0.00015],[0.0033,0.0005],[0.0033,0.0008],[0.0033,0.0011],
[0.00015,0.0001],[0.00015,0.0005],[0.00015,0.0009],[0.00015,0.0013],[0.00015,0.0017],[0.00015,0.0021],[0.00045,0.0003],[0.00045,0.0008],[0.00045,0.0012],[0.00045,0.0016],[0.00045,0.002],[0.00075,0.0001],[0.00075,0.0006],[0.00075,0.001],[0.00075,0.0014],[0.00075,0.0018],[0.00105,0.0003],[0.00105,0.0008],[0.00105,0.0013],[0.00105,0.0017],[0.00135,0.0001],[0.00135,0.0006],[0.00135,0.0011],[0.00135,0.0016],[0.0017,0.0003],[0.0017,0.0009],[0.0017,0.0015],[0.0021,0.0005],[0.0021,0.0012],[0.0026,0.0007],[0.0031,0.0002],[0.0036,0.0005],[0.004,0.0001],[0.0043,0.0011],[0.0037,0.0014],[0.0041,0.0018],[0.0031,0.0017],[0.0026,0.0019]
];
const fitNeutroBPR = [[0,0.00093],[0.02467,0.00398]];
const bandNeutroBPR = [[0,0.00083,0.00103],[0.005,0.00143,0.00167],[0.01,0.00193,0.0024],[0.015,0.00242,0.00315],[0.02,0.0029,0.0039],[0.02467,0.00336,0.0046]];

// ---------------- LAYOUT / STYLE ----------------
const FONT = '"Liberation Sans", Arial, sans-serif';
const colors = ['#2F4F4F','#F9804F','#12B6EC'];
const layout = [
  {left:87,  top:51,  width:336, height:394, xMin:-0.021,  xMax:0.462,  yMin:-0.0237,  yMax:0.5265},
  {left:479, top:51,  width:334, height:394, xMin:-0.040,  xMax:0.836,  yMin:-0.019,   yMax:0.4212},
  {left:883, top:51,  width:323, height:394, xMin:-0.00146,xMax:0.0315, yMin:-0.00237, yMax:0.05265},
  {left:100, top:529, width:323, height:394, xMin:-0.0213, xMax:0.4606, yMin:-0.00875, yMax:0.0843},
  {left:479, top:529, width:334, height:394, xMin:-0.0025, xMax:0.0523, yMin:-0.0198,  yMax:0.42},
  {left:897, top:529, width:309, height:394, xMin:-0.00142,xMax:0.0315, yMin:-0.00038, yMax:0.00839}
];
const panelData = [
  {pts:lymphCCLE, fit:fitLymphCCLE, band:bandLymphCCLE, xt:xTicksLymph, yt:yTicksLymphCCLE, xd:1, yd:1, c:0},
  {pts:macroCCLE, fit:fitMacroCCLE, band:bandMacroCCLE, xt:xTicksMacroCCLE, yt:yTicksMacroCCLE, xd:1, yd:1, c:1},
  {pts:neutroCCLE, fit:fitNeutroCCLE, band:bandNeutroCCLE, xt:xTicksNeutro, yt:yTicksNeutroCCLE, xd:2, yd:2, c:2},
  {pts:lymphBPR, fit:fitLymphBPR, band:bandLymphBPR, xt:xTicksLymph, yt:yTicksLymphBPR, xd:1, yd:2, c:0},
  {pts:macroBPR, fit:fitMacroBPR, band:bandMacroBPR, xt:xTicksMacroBPR, yt:yTicksMacroBPR, xd:2, yd:1, c:1},
  {pts:neutroBPR, fit:fitNeutroBPR, band:bandNeutroBPR, xt:xTicksNeutro, yt:yTicksNeutroBPR, xd:2, yd:3, c:2}
];

function minors(t, lo, hi) {
  const s = t[1]-t[0], out = [];
  for (let i = -1; i < t.length; i++) {
    const v = t[0] + (i + 0.5) * s;
    if (v > lo && v < hi) out.push(+v.toFixed(6));
  }
  return out;
}

const grids = [], xAxes = [], yAxes = [], series = [], graphics = [];
const tickColor = '#4d4d4d', gridMajor = '#E8E8E8', gridMinor = '#F3F3F3', labelColor = '#1e1e1e';

layout.forEach((L, i) => {
  const P = panelData[i];
  grids.push({left:L.left, top:L.top, width:L.width, height:L.height, show:true, borderColor:'#5a5a5a', borderWidth:1, backgroundColor:'transparent', containLabel:false});
  const mk = (isX, ticks, dec, lo, hi) => ([
    {type:'value', gridIndex:i, min:lo, max:hi, z:1, position:isX?'bottom':'left',
     axisLine:{show:false, onZero:false},
     axisTick:{show:true, length:5, lineStyle:{color:tickColor, width:1}, customValues:ticks},
     axisLabel:{show:true, customValues:ticks, formatter:v=>(+v).toFixed(dec), color:labelColor, fontSize:21, fontFamily:FONT, margin:isX?6:9},
     splitLine:{show:true, lineStyle:{color:gridMajor, width:1}}},
    {type:'value', gridIndex:i, min:lo, max:hi, z:0, position:isX?'top':'right',
     axisLine:{show:false, onZero:false},
     axisTick:{show:false, customValues:minors(ticks, lo, hi)},
     axisLabel:{show:false},
     splitLine:{show:true, lineStyle:{color:gridMinor, width:1}}}
  ]);
  xAxes.push(...mk(true, P.xt, P.xd, L.xMin, L.xMax));
  yAxes.push(...mk(false, P.yt, P.yd, L.yMin, L.yMax));
  const ax = 2*i;
  series.push({type:'scatter', xAxisIndex:ax, yAxisIndex:ax, data:P.pts, symbolSize:8, itemStyle:{color:colors[P.c], opacity:1}, z:2, silent:true});
  const band = P.band;
  series.push({type:'custom', xAxisIndex:ax, yAxisIndex:ax, data:[[band[0][0], band[0][1]]], z:3, silent:true,
    renderItem:(params, api) => {
      const up = band.map(b => api.coord([b[0], b[2]]));
      const dn = band.slice().reverse().map(b => api.coord([b[0], b[1]]));
      return {type:'polygon', shape:{points:up.concat(dn)}, style:{fill:'rgba(153,153,153,0.42)'}};
    }});
  series.push({type:'line', xAxisIndex:ax, yAxisIndex:ax, data:P.fit, showSymbol:false, symbol:'none', lineStyle:{color:'#000', width:2.6}, z:4, silent:true});

  // strip
  const stripTop = L.top - 37;
  graphics.push({type:'rect', shape:{x:L.left, y:stripTop, width:L.width, height:37}, style:{fill:'#D9D9D9', stroke:'#5a5a5a', lineWidth:1}, z:10});
  graphics.push({type:'text', x:L.left + L.width/2, y:stripTop + 19, style:{text:panelTitles[i], fill:'#111', font:'bold 25px '+FONT, align:'center', verticalAlign:'middle'}, z:11});
  // stat labels: italic symbol + plain remainder
  const x0 = L.left + (0 - L.xMin) / (L.xMax - L.xMin) * L.width + 1;
  const it = 'italic 22px '+FONT, nm = '22px '+FONT;
  graphics.push({type:'text', x:x0, y:L.top + 18, style:{text:'R', font:it, fill:'#111', align:'left', verticalAlign:'middle'}, z:11});
  graphics.push({type:'text', x:x0 + 15, y:L.top + 18, style:{text:'  =  '+rValues[i], font:nm, fill:'#111', align:'left', verticalAlign:'middle'}, z:11});
  graphics.push({type:'text', x:x0, y:L.top + 45, style:{text:'p', font:it, fill:'#111', align:'left', verticalAlign:'middle'}, z:11});
  graphics.push({type:'text', x:x0 + 12, y:L.top + 45, style:{text:'  '+pOps[i]+'  '+pValues[i], font:nm, fill:'#111', align:'left', verticalAlign:'middle'}, z:11});
});

// titles
graphics.push({type:'text', x:25, y:26, style:{text:panelTag, font:'bold 26px '+FONT, fill:'#111', align:'center', verticalAlign:'middle'}, z:11});
graphics.push({type:'text', x:25, y:247, rotation:Math.PI/2, style:{text:yTitles[0], font:'29px '+FONT, fill:'#111', align:'center', verticalAlign:'middle'}, z:11});
graphics.push({type:'text', x:26, y:726, rotation:Math.PI/2, style:{text:yTitles[1], font:'29px '+FONT, fill:'#111', align:'center', verticalAlign:'middle'}, z:11});
graphics.push({type:'text', x:610, y:970, style:{text:xTitle, font:'28px '+FONT, fill:'#111', align:'center', verticalAlign:'middle'}, z:11});

const chart = echarts.init(document.getElementById('c'), null, {renderer:'canvas'});
chart.setOption({
  animation:false,
  backgroundColor:'#fff',
  grid:grids, xAxis:xAxes, yAxis:yAxes, series:series, graphic:graphics
});
</script></body></html>
